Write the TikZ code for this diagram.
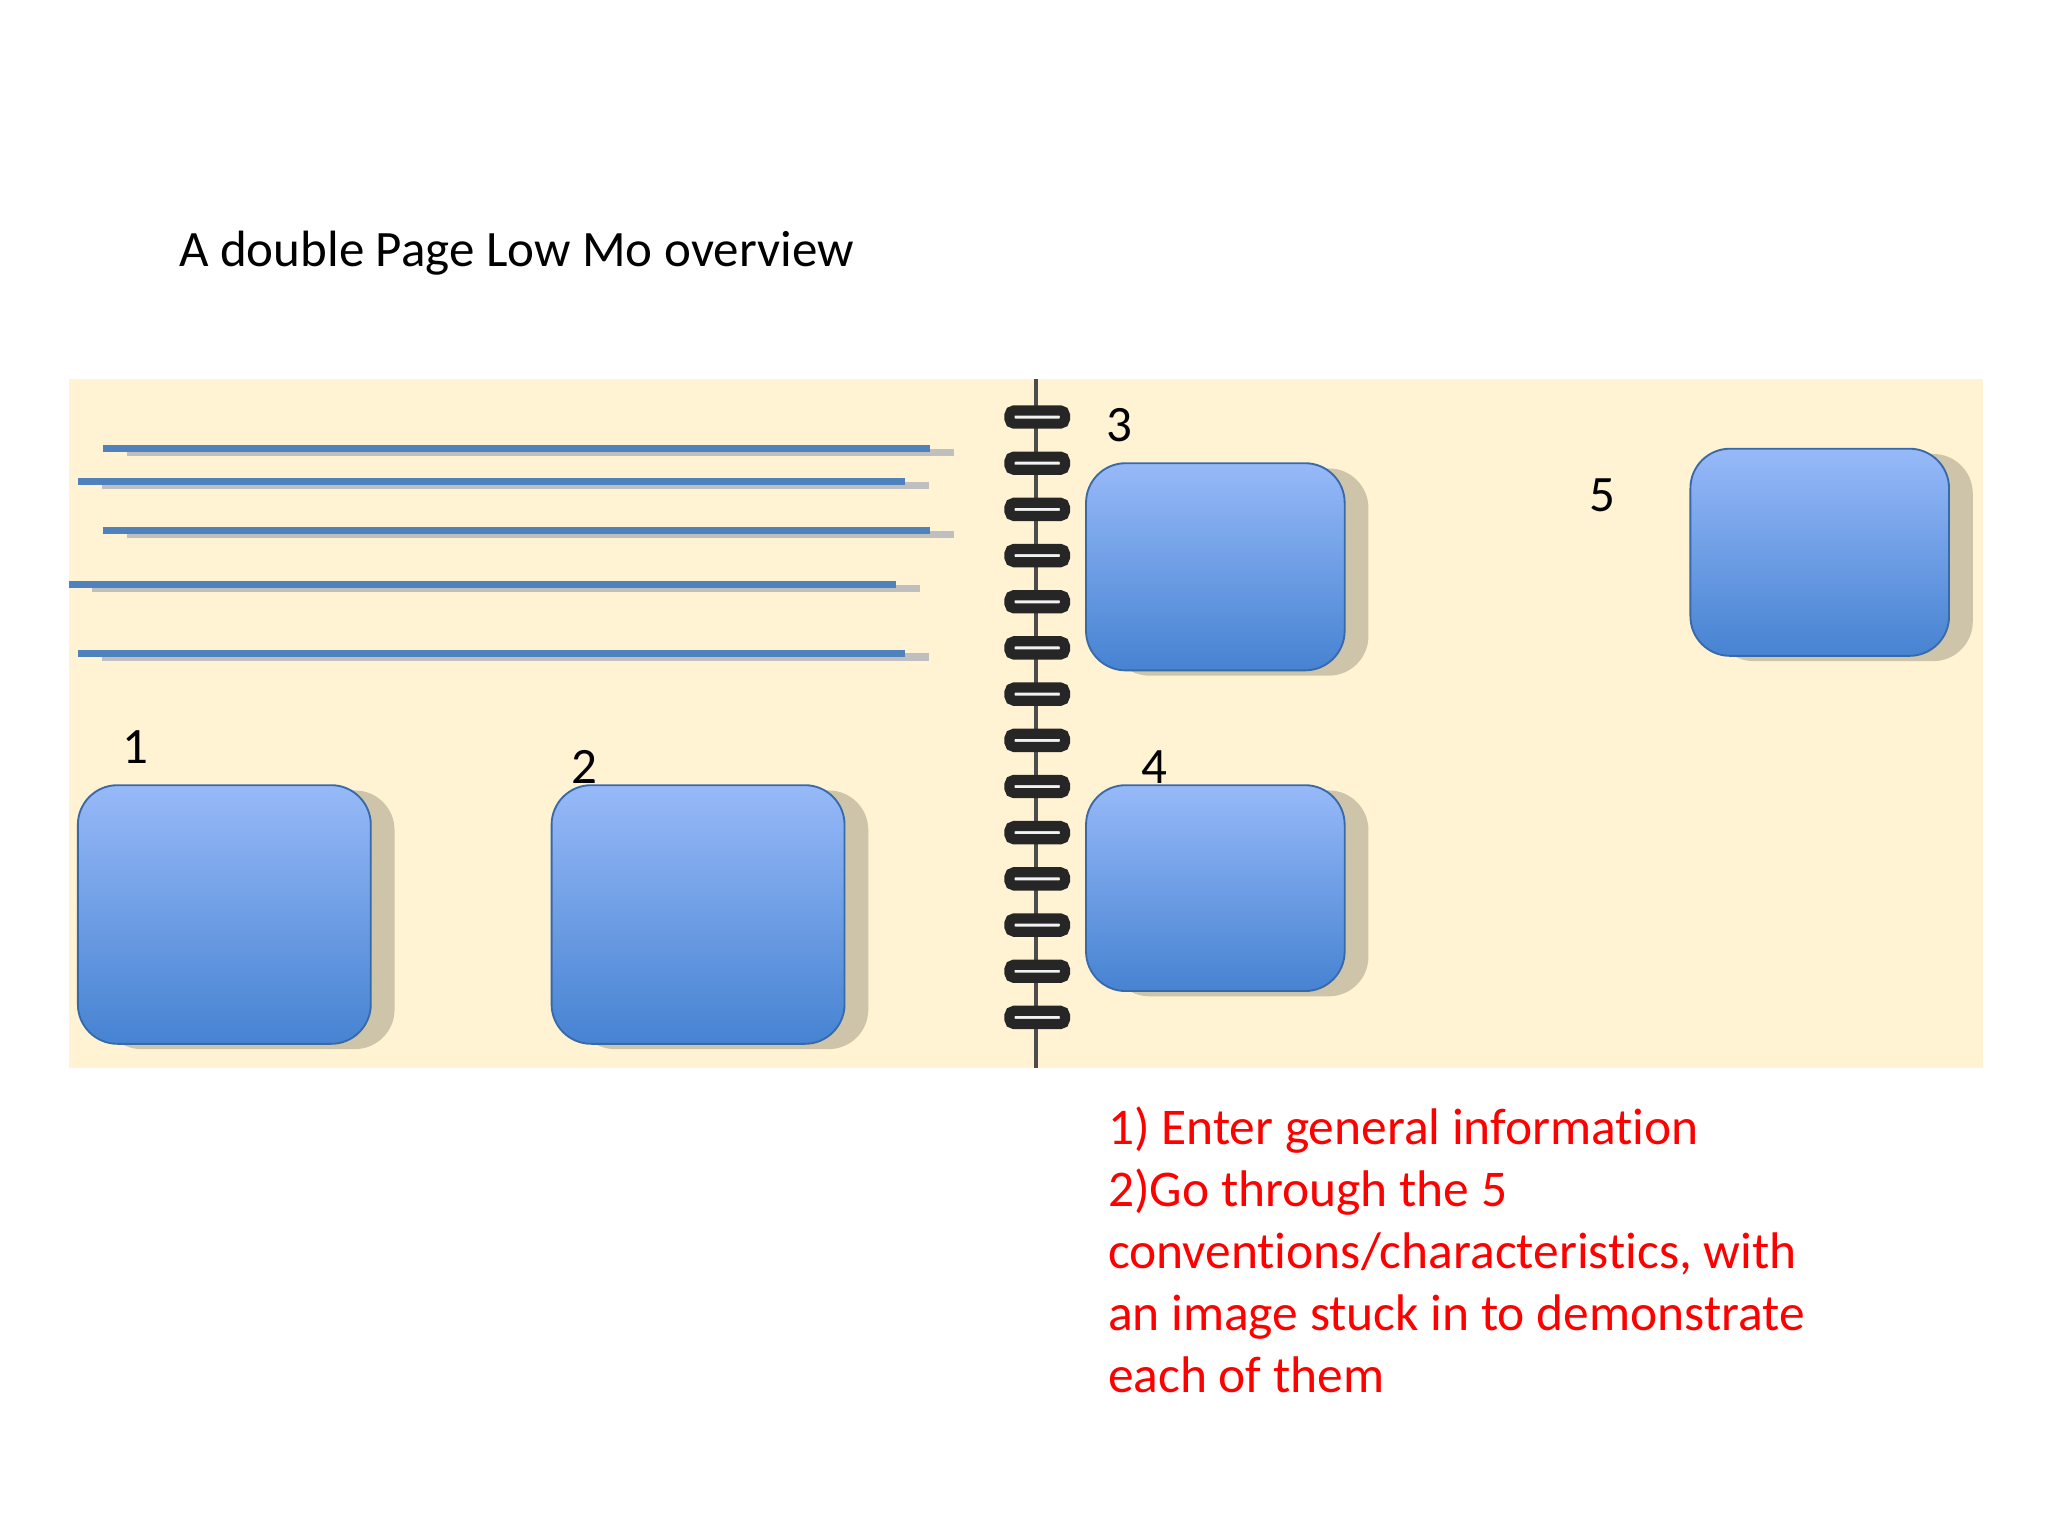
\documentclass[tikz,border=0pt]{standalone}
\usepackage{fontspec}
\setmainfont[Ligatures=CommonOff]{Carlito}
\begin{document}
\begin{tikzpicture}[x=0.1mm,y=-0.1mm]
\definecolor{bg}{RGB}{255,243,212}
\definecolor{boxtop}{RGB}{151,185,248}
\definecolor{boxbot}{RGB}{70,131,210}
\definecolor{shad}{RGB}{205,196,170}
\definecolor{lnc}{RGB}{79,129,189}
\tikzset{bx/.style={rounded corners=3mm,draw=boxbot!80!black,top color=boxtop,bottom color=boxbot},
 sh/.style={rounded corners=3mm,fill=shad},
 ln/.style={line width=1.6pt,draw=lnc},
 lsh/.style={line width=1.6pt,draw=black!25},
 lab/.style={font=\fontsize{11pt}{13pt}\selectfont,anchor=center}}
\useasboundingbox (0,0) rectangle (1552,1164);
\fill[bg] (52,287) rectangle (1503,809);
\node[anchor=west,font=\fontsize{11pt}{13pt}\selectfont,inner sep=0] (title) at (135,192) {A double Page Low Mo overview};
\foreach \a/\b/\y in {78/705/340,59/686/365,78/705/402,52/679/443,59/686/495}{
 \draw[lsh] (\a+18,\y+3) -- (\b+18,\y+3);
 \draw[ln] (\a,\y) -- (\b,\y);}
\draw[line width=1pt,black!70] (785,287) -- (785,809);
\foreach \i in {0,...,13}{
 \draw[line width=2.2pt,black!85,fill=white!90!gray,rounded corners=1pt] (765,{316+35*\i-5}) rectangle (807,{316+35*\i+5});}
\foreach \n/\a/\b/\c/\d in {b1/59/281/595/791,b2/418/640/595/791,b3/823/1019/351/508,b4/823/1019/595/751,b5/1281/1477/340/497}{
 \fill[sh] (\a+18,\c+4) rectangle (\b+18,\d+4);
 \draw[bx] (\a,\c) rectangle (\b,\d);
 \coordinate (\n) at (\a,\c);}
\node[lab] (l1) at (103,566) {1};
\node[lab] (l2) at (443,581) {2};
\node[lab] (l3) at (848,322) {3};
\node[lab] (l4) at (875,581) {4};
\node[lab] (l5) at (1214,375) {5};
\node[anchor=north west,align=left,text=red,inner sep=0,font=\fontsize{11.1pt}{13.35pt}\selectfont] (notes) at (839,838)
{1) Enter general information\\2)Go through the 5\\conventions/characteristics, with\\an image stuck in to demonstrate\\each of them};
\end{tikzpicture}
\end{document}
